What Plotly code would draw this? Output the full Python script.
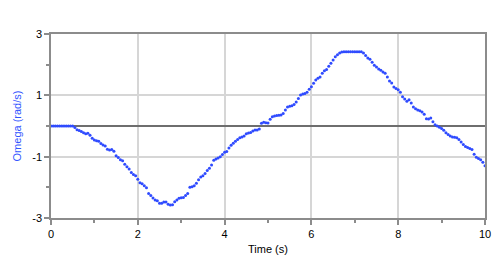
import plotly.graph_objects as go

time_s = [round(i * 0.05, 2) for i in range(201)]
omega = [
    0, 0, 0, 0, 0, 0, 0, 0, 0, 0, 0,
    -0.05, -0.12, -0.15, -0.18, -0.22, -0.25, -0.24, -0.30, -0.40, -0.46,
    -0.48, -0.50, -0.57, -0.62, -0.65, -0.76, -0.78, -0.77, -0.82, -0.97,
    -1.03, -1.10, -1.13, -1.25, -1.33, -1.40, -1.52, -1.58, -1.62, -1.74,
    -1.85, -1.88, -1.95, -2.01, -2.20, -2.27, -2.35, -2.41, -2.44, -2.52,
    -2.52, -2.48, -2.48, -2.55, -2.58, -2.57, -2.47, -2.41, -2.36, -2.34,
    -2.33, -2.27, -2.20, -2.00, -1.98, -1.95, -1.87, -1.75, -1.66, -1.62,
    -1.55, -1.45, -1.38, -1.27, -1.12, -1.08, -1.04, -1.00, -0.93, -0.86,
    -0.83, -0.72, -0.63, -0.56, -0.50, -0.44, -0.38, -0.36, -0.33, -0.25,
    -0.23, -0.21, -0.16, -0.13, -0.13, -0.10, 0.09, 0.12, 0.11, 0.10,
    0.22, 0.30, 0.33, 0.34, 0.35, 0.36, 0.41, 0.52, 0.62, 0.64,
    0.66, 0.70, 0.78, 0.90, 1.01, 1.04, 1.06, 1.10, 1.20, 1.28,
    1.39, 1.50, 1.56, 1.60, 1.72, 1.80, 1.84, 1.95, 2.05, 2.15,
    2.26, 2.32, 2.38, 2.41, 2.42, 2.42, 2.42, 2.42, 2.42, 2.42,
    2.42, 2.42, 2.42, 2.38, 2.30, 2.22, 2.18, 2.08, 1.98, 1.92,
    1.86, 1.82, 1.76, 1.72, 1.60, 1.47, 1.40, 1.27, 1.22, 1.18,
    1.10, 0.95, 0.88, 0.81, 0.86, 0.75, 0.62, 0.56, 0.52, 0.50,
    0.46, 0.38, 0.24, 0.23, 0.26, 0.14, 0.04, 0.00, -0.04, -0.08,
    -0.14, -0.22, -0.28, -0.33, -0.36, -0.37, -0.38, -0.44, -0.52, -0.60,
    -0.67, -0.70, -0.73, -0.77, -0.92, -1.02, -1.06, -1.10, -1.18, -1.30,
]

x_ticks = [0, 2, 4, 6, 8, 10]
y_ticks = [3, 1, -1, -3]
y_tick_text = ["3", "1", "-1", "-3"]

fig = go.Figure()
fig.add_trace(go.Scatter(
    x=time_s, y=omega, mode="markers",
    marker=dict(color="#2f4bff", size=3, symbol="circle", line=dict(width=0)),
    showlegend=False,
))

fig.update_layout(
    width=500, height=261,
    margin=dict(l=51, r=15, t=34, b=43),
    paper_bgcolor="white", plot_bgcolor="white",
    font=dict(family="Liberation Sans, Arial, sans-serif", size=11, color="black"),
)
fig.update_xaxes(
    range=[0, 10], tickvals=x_ticks, ticktext=[str(v) for v in x_ticks],
    automargin=False,
    showgrid=True, gridcolor="#d6d6d6", gridwidth=1.5,
    showline=True, linecolor="#8c8c8c", linewidth=1.5, mirror=True,
    ticks="outside", ticklen=5, tickcolor="#8c8c8c", tickwidth=1.5,
    minor=dict(dtick=1, ticks="outside", ticklen=3, tickcolor="#8c8c8c", showgrid=False),
    zeroline=False,
    title=dict(text="Time (s)", font=dict(size=11, color="black"), standoff=6),
)
fig.update_yaxes(
    range=[-3, 3], tickvals=y_ticks, ticktext=y_tick_text,
    automargin=False,
    showgrid=True, gridcolor="#d6d6d6", gridwidth=1.5,
    showline=True, linecolor="#8c8c8c", linewidth=1.5, mirror=True,
    ticks="outside", ticklen=5, tickcolor="#8c8c8c", tickwidth=1.5,
    minor=dict(dtick=1, tick0=0, ticks="outside", ticklen=3, tickcolor="#8c8c8c", showgrid=False),
    zeroline=True, zerolinecolor="#6e6e6e", zerolinewidth=2,
    title=dict(text="Omega (rad/s)", font=dict(size=11, color="#3355ff"), standoff=8),
)

fig.write_html("out.html")
